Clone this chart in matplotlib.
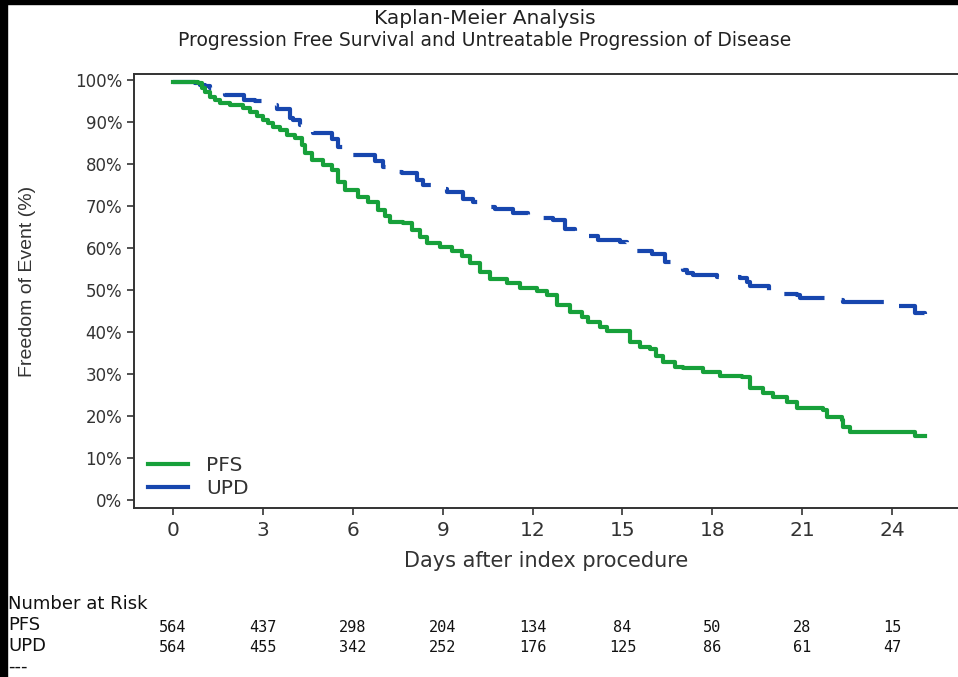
import matplotlib.pyplot as plt
from matplotlib.transforms import blended_transform_factory
from matplotlib.patches import Rectangle

# survival step data (days, % free of event)
pfs_days = [0, 0.83, 0.97, 1.07, 1.23, 1.40, 1.57, 1.90, 2.34, 2.57, 2.80, 3.00, 3.17,
            3.34, 3.57, 3.81, 4.07, 4.31, 4.41, 4.64, 5.01, 5.31, 5.51, 5.74, 6.18,
            6.51, 6.84, 7.08, 7.24, 7.68, 7.98, 8.24, 8.48, 8.91, 9.31, 9.65, 9.91,
            10.25, 10.58, 11.15, 11.58, 12.15, 12.48, 12.82, 13.25, 13.65, 13.85,
            14.25, 14.49, 15.25, 15.59, 15.92, 16.12, 16.36, 16.76, 17.02, 17.69,
            18.26, 18.99, 19.26, 19.69, 20.03, 20.49, 20.83, 21.70, 21.83, 22.33,
            22.36, 22.60, 24.77, 25.10]
pfs_surv = [99.5, 99.3, 98.1, 97.1, 96.0, 95.2, 94.5, 94.0, 93.3, 92.4, 91.4, 90.5, 89.8,
            88.8, 88.1, 86.9, 86.2, 84.5, 82.6, 81.0, 79.8, 78.6, 75.7, 73.8, 72.1,
            71.0, 69.0, 67.6, 66.2, 66.0, 64.3, 62.6, 61.2, 60.2, 59.3, 58.1, 56.4,
            54.3, 52.6, 51.7, 50.5, 49.8, 48.8, 46.4, 44.8, 43.6, 42.4,
            41.2, 40.2, 37.6, 36.4, 36.0, 34.3, 32.9, 31.7, 31.4, 30.5,
            29.5, 29.3, 26.7, 25.5, 24.5, 23.3, 21.9, 21.4, 19.8, 19.0,
            17.4, 16.2, 15.2, 15.2]

upd_days = [0, 0.73, 0.90, 1.07, 1.23, 1.40, 1.57, 1.74, 2.37, 2.74, 3.07, 3.24, 3.47,
            3.91, 4.01, 4.24, 4.41, 4.67, 5.31, 5.51, 5.74, 6.01, 6.74, 7.01, 7.31,
            7.64, 8.14, 8.34, 8.64, 9.15, 9.68, 10.01, 10.35, 10.75, 11.35, 11.85,
            12.15, 12.68, 13.08, 13.42, 13.58, 14.19, 14.92, 15.15, 15.25, 15.99,
            16.42, 16.66, 17.02, 17.16, 17.36, 18.16, 18.93, 19.16, 19.26, 19.89,
            20.03, 20.83, 20.93, 22.26, 22.36, 23.97, 24.77, 25.10]
upd_surv = [99.5, 99.3, 98.8, 98.6, 98.1, 97.4, 96.9, 96.4, 95.2, 95.0, 94.8, 94.0, 93.1,
            91.0, 90.5, 89.3, 88.1, 87.4, 86.0, 84.0, 82.9, 82.1, 80.7, 79.3, 78.1,
            77.9, 76.2, 75.0, 74.0, 73.3, 71.7, 71.0, 69.8, 69.3, 68.3, 67.9,
            67.1, 66.7, 64.5, 63.8, 62.9, 61.9, 61.4, 60.2, 59.3, 58.6,
            56.7, 55.9, 54.8, 54.0, 53.6, 53.1, 52.9, 51.9, 51.0, 49.8,
            49.0, 48.8, 48.1, 47.6, 47.1, 46.2, 44.5, 44.3]

risk_days = [0, 3, 6, 9, 12, 15, 18, 21, 24]
pfs_risk = [564, 437, 298, 204, 134, 84, 50, 28, 15]
upd_risk = [564, 455, 342, 252, 176, 125, 86, 61, 47]

green = '#17a03a'
blue = '#1746ae'
dark = '#333333'

fig = plt.figure(figsize=(9.58, 6.77), dpi=100)
ax = fig.add_axes([134/958, 169/677, 1 - 134/958, 434/677])

ax.step(upd_days, upd_surv, where='post', color=blue, lw=3, dashes=(10.6, 4.6))
ax.step(pfs_days, pfs_surv, where='post', color=green, lw=3)

# legend uses solid lines for both series
ax.plot([], [], color=green, lw=3, label='PFS')
ax.plot([], [], color=blue, lw=3, label='UPD')
ax.legend(loc='lower left', bbox_to_anchor=(0.0, -0.01), frameon=False, fontsize=14.5,
          handlelength=2.0, handletextpad=0.9, labelspacing=0.2, borderaxespad=0.3,
          labelcolor=dark)

ax.set_xlim(-1.3, 26.2)
ax.set_ylim(-1.9, 101.4)
ax.set_xticks(risk_days)
ax.set_yticks(range(0, 101, 10))
ax.set_yticklabels([f'{v}%' for v in range(0, 101, 10)])
ax.tick_params(direction='out', length=5, width=1.2, colors=dark, labelsize=12)
ax.tick_params(axis='x', labelsize=14.5, pad=4)
for side in ['left', 'bottom', 'top']:
    ax.spines[side].set_color(dark)
    ax.spines[side].set_linewidth(1.4)
ax.spines['right'].set_visible(False)

ax.set_xlabel('Days after index procedure', fontsize=15, color=dark, labelpad=8)
fig.text(28/958, 1 - 281/677, 'Freedom of Event (%)', rotation=90, ha='center', va='center',
         fontsize=14, family='Liberation Sans', color=dark)

fig.text(485/958, 1 - 18/677, 'Kaplan-Meier Analysis', ha='center', va='center',
         fontsize=14.5, color='#222222')
fig.text(485/958, 1 - 40/677, 'Progression Free Survival and Untreatable Progression of Disease',
         ha='center', va='center', fontsize=13.5, color='#222222')

# number at risk table below the plot
tr = blended_transform_factory(ax.transData, fig.transFigure)
for label, ypix in [('Number at Risk', 604), ('PFS', 625), ('UPD', 646), ('---', 667)]:
    fig.text(8/958, 1 - ypix/677, label, ha='left', va='center', fontsize=13, color='#111111')
for d, p, u in zip(risk_days, pfs_risk, upd_risk):
    fig.text(d, 1 - 627/677, str(p), transform=tr, ha='center', va='center',
             fontsize=11, family='DejaVu Sans Mono', color='#111111')
    fig.text(d, 1 - 648/677, str(u), transform=tr, ha='center', va='center',
             fontsize=11, family='DejaVu Sans Mono', color='#111111')

# black borders at left and top edge
fig.patches.append(Rectangle((0, 0), 7/958, 1, transform=fig.transFigure, color='black', zorder=10))
fig.patches.append(Rectangle((0, 1 - 4/677), 1, 4/677, transform=fig.transFigure, color='black', zorder=10))

fig.savefig('out.png', dpi=100)
